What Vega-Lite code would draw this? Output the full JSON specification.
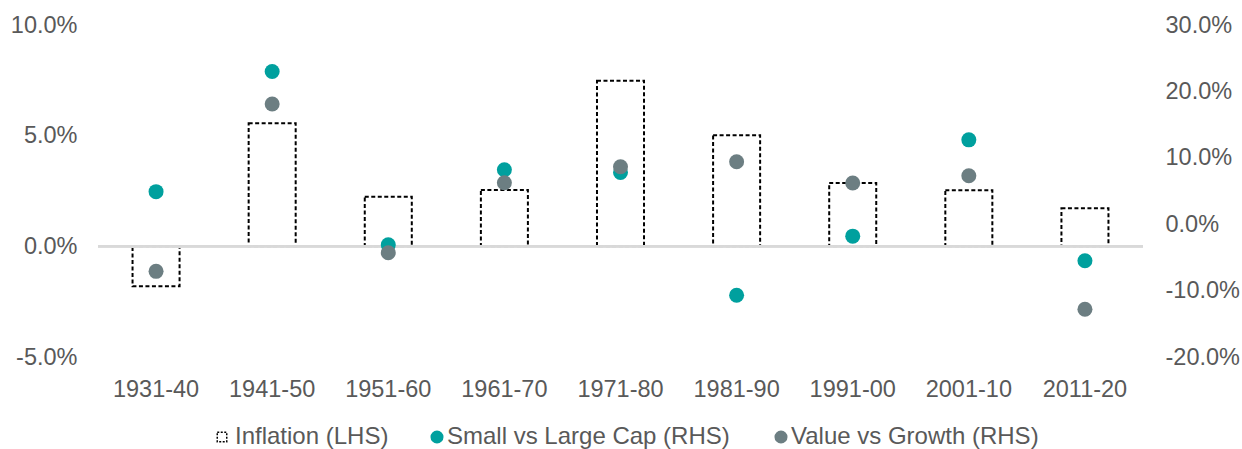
{
  "$schema": "https://vega.github.io/schema/vega-lite/v6.json",
  "width": 1045,
  "height": 332,
  "autosize": {"type": "none"},
  "padding": {"left": 98, "top": 25, "right": 99, "bottom": 92},
  "background": "#ffffff",
  "config": {
    "view": {"stroke": null},
    "font": "Liberation Sans",
    "axis": {"grid": false, "domain": false, "ticks": false, "labelFont": "Liberation Sans", "labelFontSize": 23.5, "labelColor": "#595959", "title": null},
    "legend": {"labelFont": "Liberation Sans", "labelFontSize": 24, "labelColor": "#595959", "labelLimit": 500, "padding": 0, "title": null}
  },
  "data": {
    "values": [
      {"period": "1931-40", "series": "Inflation (LHS)", "value": -0.018},
      {"period": "1941-50", "series": "Inflation (LHS)", "value": 0.0556},
      {"period": "1951-60", "series": "Inflation (LHS)", "value": 0.0224},
      {"period": "1961-70", "series": "Inflation (LHS)", "value": 0.0254},
      {"period": "1971-80", "series": "Inflation (LHS)", "value": 0.0748},
      {"period": "1981-90", "series": "Inflation (LHS)", "value": 0.0502},
      {"period": "1991-00", "series": "Inflation (LHS)", "value": 0.0286},
      {"period": "2001-10", "series": "Inflation (LHS)", "value": 0.0253},
      {"period": "2011-20", "series": "Inflation (LHS)", "value": 0.0172},
      {"period": "1931-40", "series": "Small vs Large Cap (RHS)", "value": 0.049},
      {"period": "1941-50", "series": "Small vs Large Cap (RHS)", "value": 0.230},
      {"period": "1951-60", "series": "Small vs Large Cap (RHS)", "value": -0.031},
      {"period": "1961-70", "series": "Small vs Large Cap (RHS)", "value": 0.082},
      {"period": "1971-80", "series": "Small vs Large Cap (RHS)", "value": 0.078},
      {"period": "1981-90", "series": "Small vs Large Cap (RHS)", "value": -0.107},
      {"period": "1991-00", "series": "Small vs Large Cap (RHS)", "value": -0.018},
      {"period": "2001-10", "series": "Small vs Large Cap (RHS)", "value": 0.127},
      {"period": "2011-20", "series": "Small vs Large Cap (RHS)", "value": -0.055},
      {"period": "1931-40", "series": "Value vs Growth (RHS)", "value": -0.071},
      {"period": "1941-50", "series": "Value vs Growth (RHS)", "value": 0.181},
      {"period": "1951-60", "series": "Value vs Growth (RHS)", "value": -0.043},
      {"period": "1961-70", "series": "Value vs Growth (RHS)", "value": 0.0625},
      {"period": "1971-80", "series": "Value vs Growth (RHS)", "value": 0.0866},
      {"period": "1981-90", "series": "Value vs Growth (RHS)", "value": 0.094},
      {"period": "1991-00", "series": "Value vs Growth (RHS)", "value": 0.062},
      {"period": "2001-10", "series": "Value vs Growth (RHS)", "value": 0.073},
      {"period": "2011-20", "series": "Value vs Growth (RHS)", "value": -0.128}
    ]
  },
  "layer": [
    {
      "layer": [
        {
          "transform": [{"filter": "datum.series === 'Inflation (LHS)'"}],
          "mark": {"type": "bar", "width": {"band": 0.405}, "fill": "#ffffff", "strokeWidth": 2, "strokeDash": [4, 2.5], "cornerRadius": 0},
          "encoding": {
            "x": {
              "field": "period",
              "type": "ordinal",
              "sort": null,
              "scale": {"paddingInner": 0, "paddingOuter": 0},
              "axis": {"labelAngle": 0, "labelPadding": 20, "orient": "bottom"}
            },
            "y": {
              "field": "value",
              "type": "quantitative",
              "scale": {"domain": [-0.05, 0.1], "nice": false, "zero": false},
              "axis": {"orient": "left", "values": [-0.05, 0, 0.05, 0.1], "labelPadding": 21, "labelExpr": "replace(format(datum.value, '.1%'), '\u2212', '-')"}
            },
            "stroke": {
              "field": "series",
              "type": "nominal",
              "scale": {"domain": ["Inflation (LHS)"], "range": ["#000000"]},
              "legend": {
                "orient": "none",
                "direction": "horizontal",
                "legendX": 112,
                "legendY": 400,
                "symbolType": "square",
                "symbolSize": 90,
                "symbolFillColor": "#ffffff",
                "symbolStrokeColor": "#000000",
                "symbolStrokeWidth": 1.5,
                "symbolDash": [2, 1.5],
                "labelOffset": 1
              }
            }
          }
        },
        {
          "mark": {"type": "rule", "color": "#d9d9d9", "strokeWidth": 2},
          "encoding": {"y": {"datum": 0, "type": "quantitative"}}
        }
      ]
    },
    {
      "transform": [{"filter": "datum.series !== 'Inflation (LHS)'"}],
      "mark": {"type": "circle", "size": 225, "opacity": 1},
      "encoding": {
        "x": {
          "field": "period",
          "type": "ordinal",
          "sort": null
        },
        "y": {
          "field": "value",
          "type": "quantitative",
          "scale": {"domain": [-0.2, 0.3], "nice": false, "zero": false},
          "axis": {"orient": "right", "values": [-0.2, -0.1, 0, 0.1, 0.2, 0.3], "labelPadding": 22, "labelExpr": "replace(format(datum.value, '.1%'), '\u2212', '-')"}
        },
        "color": {
          "field": "series",
          "type": "nominal",
          "scale": {"domain": ["Small vs Large Cap (RHS)", "Value vs Growth (RHS)"], "range": ["#00A09E", "#6C7E82"]},
          "legend": {
            "orient": "none",
            "direction": "horizontal",
            "legendX": 327,
            "legendY": 400,
            "symbolType": "circle",
            "symbolSize": 170,
            "symbolOpacity": 1,
            "labelOffset": -2,
            "columnPadding": 39
          }
        }
      }
    }
  ],
  "resolve": {"scale": {"y": "independent"}}
}
